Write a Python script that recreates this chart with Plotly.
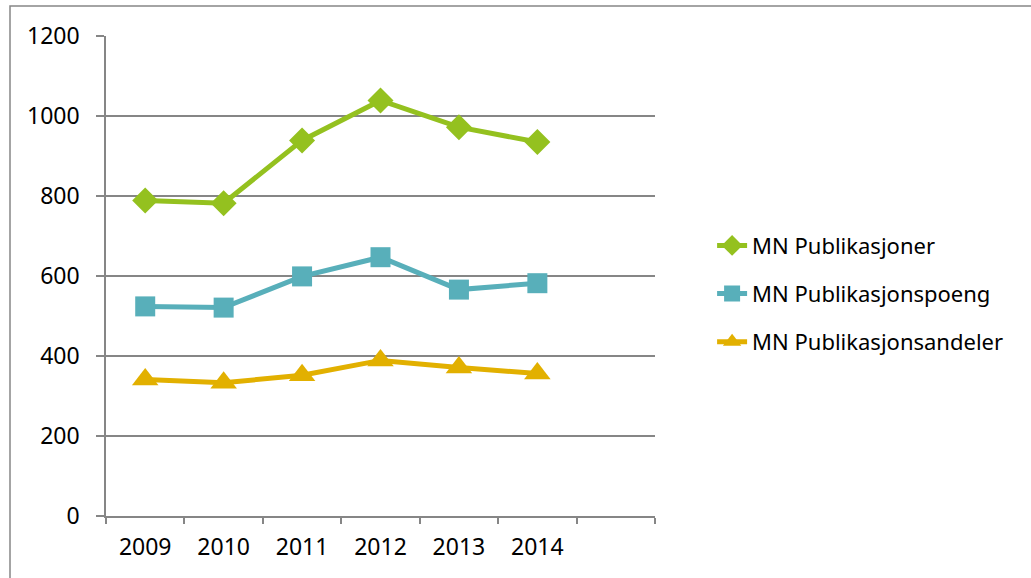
import plotly.graph_objects as go

# categories incl. one empty slot at the end (as in the source chart)
years = ["2009", "2010", "2011", "2012", "2013", "2014"]
slots = years + [" "]

publikasjoner = [789, 782, 939, 1039, 972, 935]
publikasjonspoeng = [524, 521, 599, 647, 566, 582]
publikasjonsandeler = [341, 333, 352, 389, 371, 356]

W, H = 1031, 578
L, R, T, B = 106, 376, 36, 62

fig = go.Figure()

series = [
    ("MN Publikasjoner", publikasjoner, "#94C11F", "diamond", 20),
    ("MN Publikasjonspoeng", publikasjonspoeng, "#58AFBA", "square", 20),
    ("MN Publikasjonsandeler", publikasjonsandeler, "#E2B000", "triangle-up", 23),
]
for i, (name, vals, col, sym, size) in enumerate(series):
    fig.add_trace(go.Scatter(
        x=years, y=vals, name=name, mode="lines+markers",
        line=dict(color=col, width=5),
        marker=dict(symbol=sym, size=size, color=col),
        legendgroup=str(i),
    ))

fig.update_xaxes(
    type="category", categoryorder="array", categoryarray=slots,
    range=[-0.5, 6.5], tickson="boundaries", ticks="outside", ticklen=6,
    tickcolor="#868686", tickwidth=1.5, ticklabelstandoff=10,
    showline=True, linecolor="#868686", linewidth=1.5,
    showgrid=False, tickfont=dict(size=23, color="black"),
)
fig.update_yaxes(
    range=[0, 1200], dtick=200, ticks="outside", ticklen=8,
    tickcolor="#868686", tickwidth=1.5, ticklabelstandoff=12,
    showline=True, linecolor="#868686", linewidth=1.5,
    showgrid=True, gridcolor="#868686", gridwidth=1.5,
    zeroline=False, tickfont=dict(size=23, color="black"),
)

# outer chart border (only top and left edges fall inside the frame)
fig.add_shape(type="rect", xref="paper", yref="paper",
              x0=(10 - L) / (W - L - R), x1=(1040 - L) / (W - L - R),
              y0=-(590 - (H - B)) / (H - T - B), y1=((H - B) - 6) / (H - T - B),
              line=dict(color="#868686", width=1.5), layer="below")

fig.update_layout(
    width=W, height=H,
    margin=dict(l=L, r=R, t=T, b=B),
    plot_bgcolor="white", paper_bgcolor="white",
    font=dict(family="Noto Sans, Open Sans, sans-serif", color="black"),
    legend=dict(x=1.104, y=0.607, xanchor="left", yanchor="top",
                font=dict(size=22), tracegroupgap=16.5,
                bgcolor="rgba(0,0,0,0)"),
    showlegend=True,
)

fig.write_html("out.html", config={"displayModeBar": False},
               post_script="document.body.style.margin='0';")
